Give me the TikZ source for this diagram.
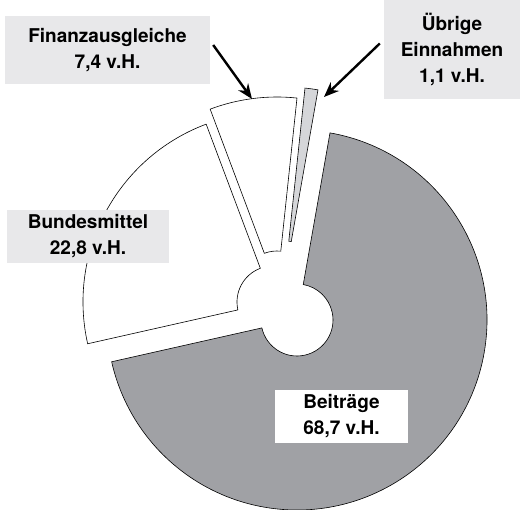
\documentclass[tikz,border=0pt]{standalone}
\usepackage{fontspec}
\setmainfont{TeX Gyre Heros}
\usetikzlibrary{arrows.meta}
\definecolor{grisfonce}{RGB}{160,161,165}
\definecolor{grismoyen}{RGB}{213,214,217}
\definecolor{grisclair}{RGB}{232,232,234}
\begin{document}
\begin{tikzpicture}[x=1pt,y=1pt]
	% Styles (MODIFIABLES)
	\tikzstyle{secteur}=[draw=black,line width=0.6pt,line join=miter]
	\tikzstyle{fleche}=[-{Stealth[length=15pt,width=12pt]},line width=2.4pt]
	\tikzstyle{etiquette}=[fill=grisclair,align=center,inner sep=0pt,font=\bfseries\fontsize{19}{26}\selectfont]
	% Dimensions (MODIFIABLES)
	\def\RayonExt{190}
	\def\RayonInt{36}
	% Angles des secteurs (68,7 / 1,1 / 7,4 / 22,8 v.H.)
	\def\AngleA{80}
	\def\AngleB{83.96}
	\def\AngleC{110.6}
	\def\AngleD{192.7}
	\useasboundingbox (0,0) rectangle (520,-510);
	% Centres des secteurs (eclates)
	\coordinate (cBeitraege) at (297,-320);
	\coordinate (cUebrige) at (285,-277);
	\coordinate (cFinanz) at (277,-287);
	\coordinate (cBundes) at (273,-302);
	% Secteurs
	\draw[secteur,fill=grisfonce,shift={(cBeitraege)}] (\AngleA:\RayonInt pt) -- (\AngleA:\RayonExt pt)
		arc[start angle=\AngleA,end angle=\AngleD-360,radius=\RayonExt pt] -- (\AngleD:\RayonInt pt)
		arc[start angle=\AngleD-360,end angle=\AngleA,radius=\RayonInt pt] -- cycle;
	\draw[secteur,fill=grismoyen,shift={(cUebrige)}] (\AngleA:\RayonInt pt) -- (\AngleA:\RayonExt pt)
		arc[start angle=\AngleA,end angle=\AngleB,radius=\RayonExt pt] -- (\AngleB:\RayonInt pt)
		arc[start angle=\AngleB,end angle=\AngleA,radius=\RayonInt pt] -- cycle;
	\draw[secteur,fill=white,shift={(cFinanz)}] (\AngleB:\RayonInt pt) -- (\AngleB:\RayonExt pt)
		arc[start angle=\AngleB,end angle=\AngleC,radius=\RayonExt pt] -- (\AngleC:\RayonInt pt)
		arc[start angle=\AngleC,end angle=\AngleB,radius=\RayonInt pt] -- cycle;
	\draw[secteur,fill=white,shift={(cBundes)}] (\AngleC:\RayonInt pt) -- (\AngleC:\RayonExt pt)
		arc[start angle=\AngleC,end angle=\AngleD,radius=\RayonExt pt] -- (\AngleD:\RayonInt pt)
		arc[start angle=\AngleD,end angle=\AngleC,radius=\RayonInt pt] -- cycle;
	% Etiquettes (MODIFIABLES)
	\node[etiquette,minimum width=205pt,minimum height=68pt] (Finanz) at (107.5,-50) {Finanzausgleiche\\7,4 v.H.};
	\node[etiquette,minimum width=136pt,minimum height=100pt] (Uebrige) at (452,-49.5) {Übrige\\Einnahmen\\1,1 v.H.};
	\node[etiquette,minimum width=162pt,minimum height=53pt] (Bundes) at (88,-236.5) {Bundesmittel\\22,8 v.H.};
	\node[etiquette,fill=white,minimum width=133pt,minimum height=53pt] (Beitraege) at (341.5,-416.5) {Beiträge\\68,7 v.H.};
	% Fleches
	\coordinate (pointeF) at (252,-99);
	\coordinate (pointeU) at (324,-97);
	\draw[fleche] ([shift={(3pt,5pt)}]Finanz.east) -- (pointeF);
	\draw[fleche] ([shift={(-4pt,6pt)}]Uebrige.west) -- (pointeU);
\end{tikzpicture}
\end{document}
